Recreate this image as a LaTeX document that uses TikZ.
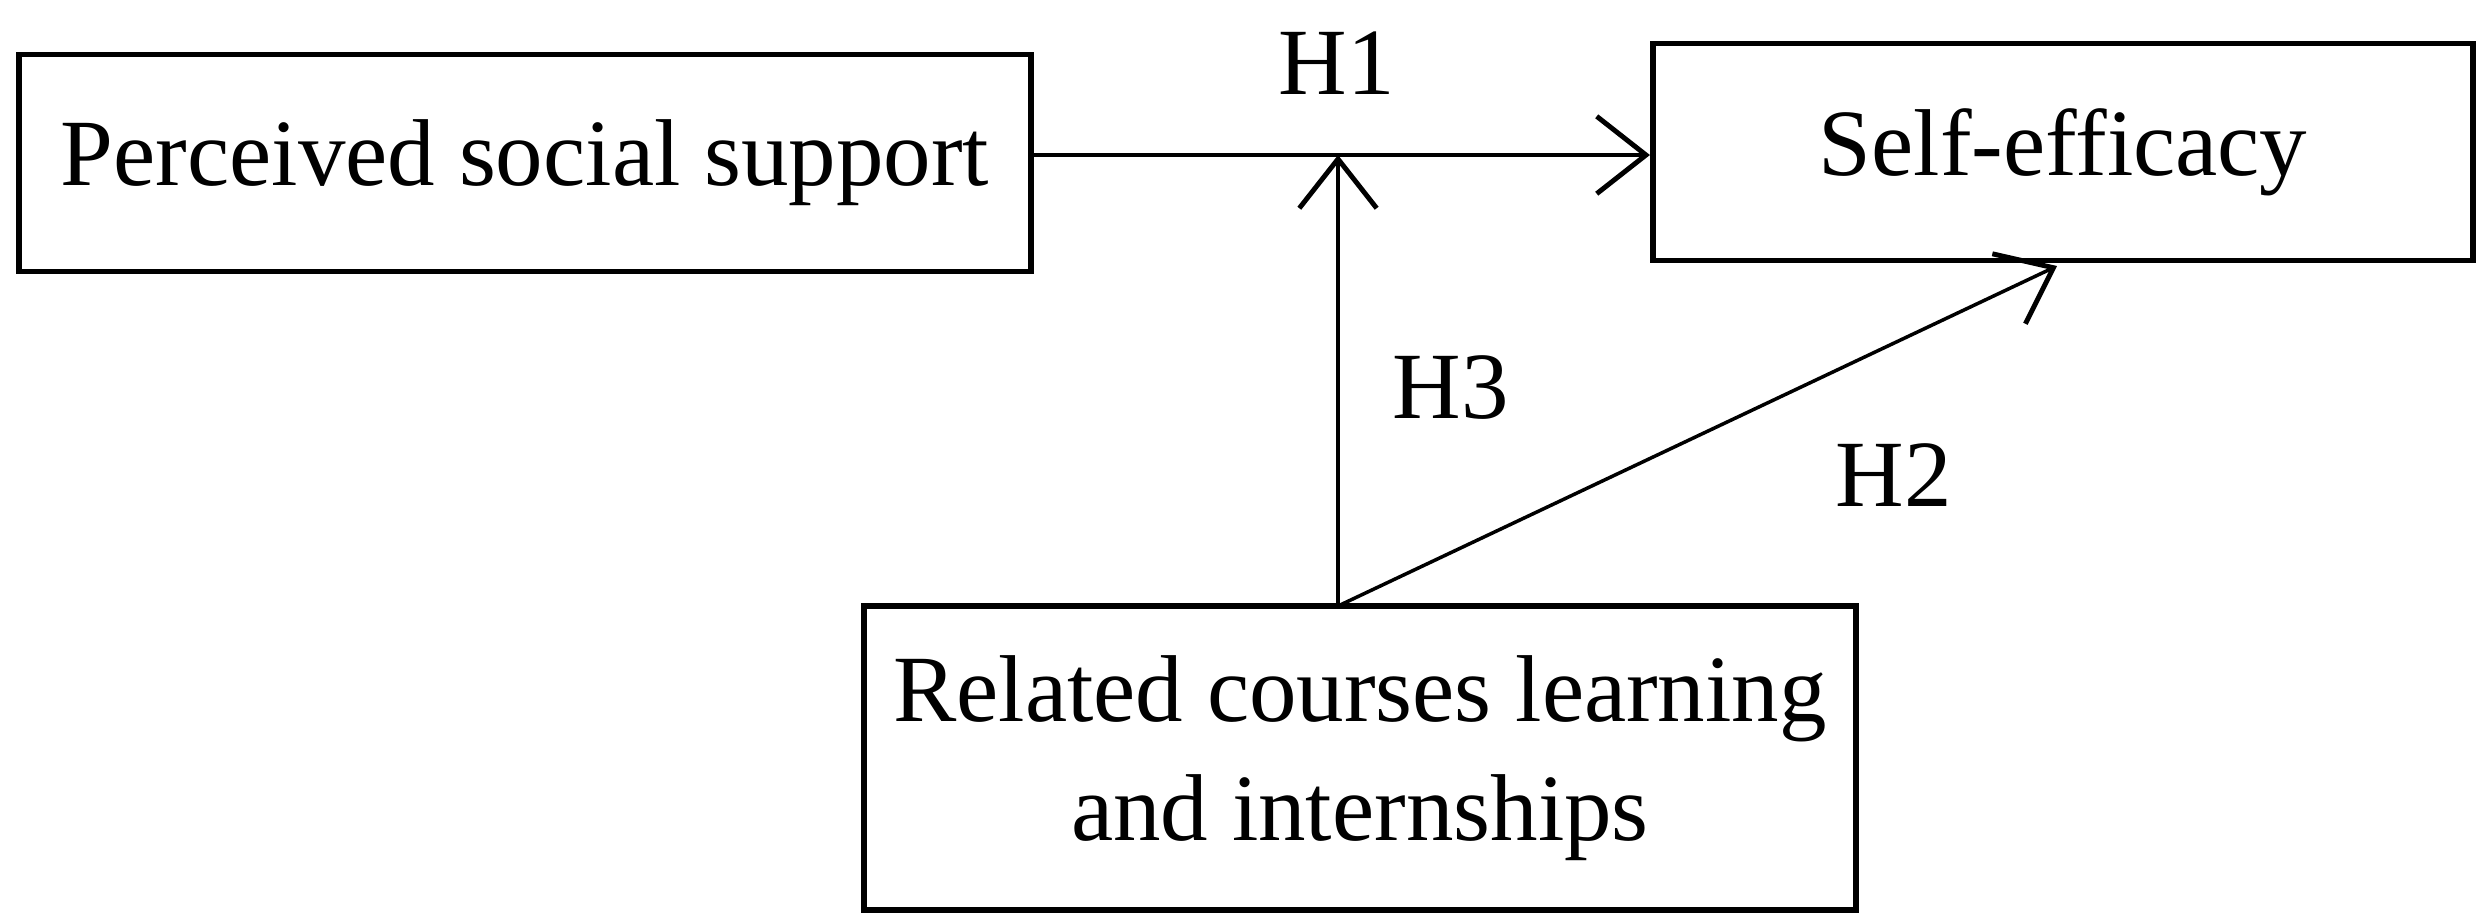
\documentclass[tikz,border=0pt]{standalone}
\usepackage{fontspec}
\setmainfont{Liberation Serif}
\usetikzlibrary{arrows.meta}
\begin{document}
\begin{tikzpicture}[x=0.01cm,y=-0.01cm,
  box/.style={draw,line width=1.6pt,inner sep=0pt,font=\fontsize{27}{34}\selectfont,align=center},
  lab/.style={font=\fontsize{27}{34}\selectfont},
  arr/.style={line width=1.4pt,-{Straight Barb[length=14pt,width=22pt,line width=1.4pt]}}]
\useasboundingbox (0,0) rectangle (2480,923);
\node[box,minimum width=10.12cm,minimum height=2.17cm] (pss) at (525,163) {Perceived social support};
\node[box,minimum width=8.2cm,minimum height=2.17cm] (se) at (2063,152) {Self-efficacy};
\node[box,minimum width=9.92cm,minimum height=3.04cm] (rc) at (1360,758) {Related courses learning\\and internships};
\coordinate (j) at (1338,155);
\coordinate (b) at (1338,606);
\coordinate (d) at (2057,266);
\draw[arr] (pss.east|-j) -- (se.west|-j);
\draw[arr] (b) -- (j);
\draw[arr,line width=1pt] (b) -- (d);
\node[lab] (h1) at (1337,63) {H1};
\node[lab] (h3) at (1451,388) {H3};
\node[lab] (h2) at (1894,475) {H2};
\end{tikzpicture}
\end{document}
